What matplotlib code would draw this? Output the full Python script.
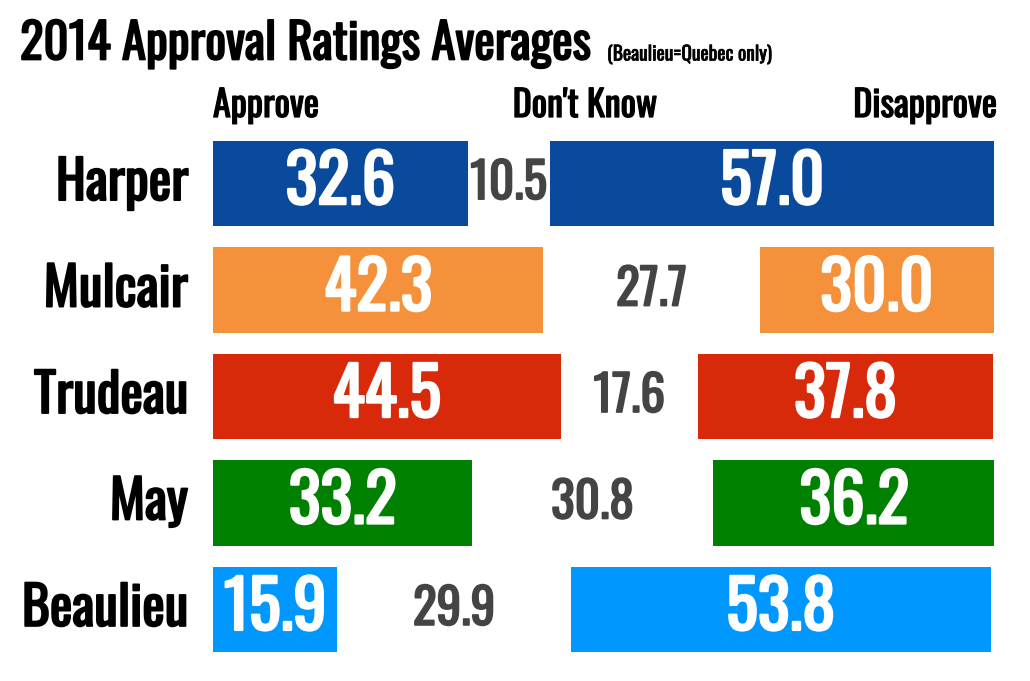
import matplotlib
matplotlib.use("Agg")
import matplotlib.pyplot as plt
import matplotlib.patheffects as pe

names = ["Harper", "Mulcair", "Trudeau", "May", "Beaulieu"]
approve = [32.6, 42.3, 44.5, 33.2, 15.9]
dont_know = [10.5, 27.7, 17.6, 30.8, 29.9]
disapprove = [57.0, 30.0, 37.8, 36.2, 53.8]
colors = ["#0a4a9c", "#f5913b", "#d9290b", "#008000", "#0097ff"]

plt.rcParams['font.family'] = ['Oswald', 'League Gothic', 'DejaVu Sans']


def heavy(size, color):
    # Oswald only ships one weight here, so fatten the strokes a bit
    return dict(fontsize=size, color=color,
                path_effects=[pe.withStroke(linewidth=size * 0.035, foreground=color)])


fig = plt.figure(figsize=(10.30, 6.81), dpi=100)
ax = fig.add_axes([213/1030, 29/681, 781/1030, 511/681])

y = list(range(len(names)))
left_dis = [a + d for a, d in zip(approve, dont_know)]
ax.barh(y, approve, height=0.8, color=colors)
ax.barh(y, disapprove, left=left_dis, height=0.8, color=colors)

for i in y:
    ax.text(approve[i] / 2, i, f"{approve[i]:.1f}", ha='center', va='center',
            **heavy(48, 'white'))
    ax.text(approve[i] + dont_know[i] / 2, i, f"{dont_know[i]:.1f}", ha='center',
            va='center', **heavy(35.5, '#444444'))
    ax.text(left_dis[i] + disapprove[i] / 2, i, f"{disapprove[i]:.1f}", ha='center',
            va='center', **heavy(48, 'white'))
    ax.text(-3.2, i, names[i], ha='right', va='center', **heavy(38.5, 'black'))

ax.set_xlim(0, 100)
ax.set_ylim(len(names) - 0.6, -0.4)
ax.axis('off')

fig.text(20/1030, 1 - 44/681, "2014 Approval Ratings Averages", va='center', ha='left',
         **heavy(35.2, 'black'))
fig.text(607/1030, 1 - 54/681, "(Beaulieu=Quebec only)", va='center', ha='left',
         **heavy(14, 'black'))
fig.text(213/1030, 1 - 106/681, "Approve", va='center', ha='left', **heavy(26, 'black'))
fig.text(585/1030, 1 - 106/681, "Don't Know", va='center', ha='center', **heavy(26, 'black'))
fig.text(997/1030, 1 - 106/681, "Disapprove", va='center', ha='right', **heavy(26, 'black'))

fig.savefig("out.png", dpi=100)
